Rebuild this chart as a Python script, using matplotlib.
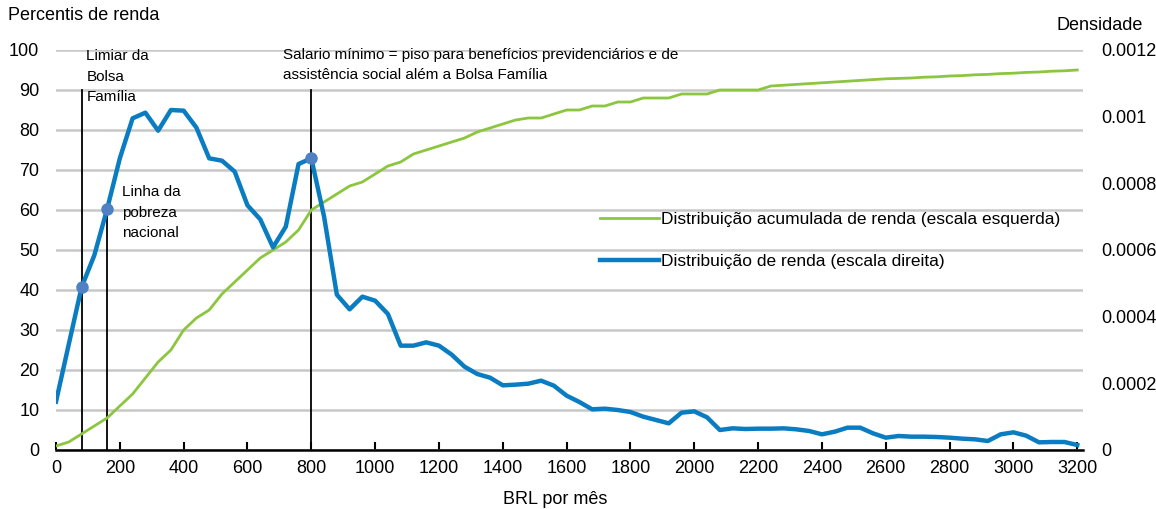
import numpy as np
import matplotlib
matplotlib.use("Agg")
import matplotlib.pyplot as plt

plt.rcParams['font.family'] = ['Liberation Sans', 'DejaVu Sans']

# renda mensal (BRL), passo de 40
renda = np.arange(0, 3201, 40)

# distribuição acumulada de renda (percentis, escala esquerda)
acumulada = [1.0, 2.0, 4.0, 6.0, 8.0, 11, 14, 18, 22, 25,
             30, 33, 35, 39, 42, 45, 48, 50, 52, 55,
             60, 62, 64, 66, 67, 69, 71, 72, 74, 75,
             76, 77, 78, 79.5, 80.5, 81.5, 82.5, 83, 83, 84,
             85, 85, 86, 86, 87, 87, 88, 88, 88, 89,
             89, 89, 90, 90, 90, 90, 91, 91.2, 91.4, 91.6,
             91.8, 92.0, 92.2, 92.4, 92.6, 92.8, 92.9, 93.0, 93.2, 93.3,
             93.5, 93.6, 93.8, 93.9, 94.1, 94.2, 94.4, 94.5, 94.7, 94.8,
             95.0]

# distribuição de renda (densidade, escala direita), em unidades de 1e-5
dens_e5 = [14.5, 31.7, 48.8, 58.4, 72.2, 87.5, 99.5, 101.2, 95.8, 102.0,
           101.8, 96.7, 87.5, 86.8, 83.5, 73.4, 69.2, 60.8, 67.0, 85.8,
           87.5, 70.0, 46.6, 42.2, 46.0, 44.8, 40.8, 31.3, 31.3, 32.3,
           31.3, 28.6, 25.0, 22.8, 21.7, 19.4, 19.6, 19.9, 20.8, 19.3,
           16.3, 14.4, 12.2, 12.4, 12.0, 11.4, 10.0, 9.0, 8.0, 11.2,
           11.6, 9.8, 6.0, 6.5, 6.3, 6.4, 6.4, 6.5, 6.2, 5.7,
           4.7, 5.5, 6.7, 6.7, 5.0, 3.7, 4.2, 4.0, 4.0, 3.9,
           3.7, 3.4, 3.2, 2.7, 4.7, 5.3, 4.3, 2.3, 2.4, 2.4,
           1.5]
densidade = np.array(dens_e5) * 1e-5

# linhas de referência
ref_x = [80, 160, 800]
ref_topo = [90, 60, 90]
pontos_x = [80, 160, 800]

dir_ticks = [0, 0.0002, 0.0004, 0.0006, 0.0008, 0.001, 0.0012]
dir_labels = ['0', '0.0002', '0.0004', '0.0006', '0.0008', '0.001', '0.0012']

verde = '#8cc63f'
azul = '#0a7cc1'
marcador = '#4f81c4'

fig = plt.figure(figsize=(11.56, 5.09), dpi=100)
ax = fig.add_axes([56 / 1156, 1 - 450 / 509, (1083 - 56) / 1156, 400 / 509])
ax2 = ax.twinx()

ax.set_xlim(0, 3218)
ax.set_ylim(0, 100)
ax2.set_ylim(0, 0.0012)

ax.set_yticks(np.arange(0, 101, 10))
ax.set_xticks(np.arange(0, 3201, 200))
ax.grid(axis='y', color='#c8c8c8', linewidth=1.8)
ax.set_axisbelow(True)

for s in ['top', 'right', 'left']:
    ax.spines[s].set_visible(False)
for s in ['top', 'right', 'left', 'bottom']:
    ax2.spines[s].set_visible(False)
ax.spines['bottom'].set_linewidth(1.8)

ax.tick_params(axis='y', length=0, pad=12, labelsize=13)
ax.tick_params(axis='x', direction='in', length=6, width=1.5, pad=7, labelsize=13)
ax2.set_yticks(dir_ticks)
ax2.set_yticklabels(dir_labels)
ax2.tick_params(axis='y', length=0, pad=13, labelsize=13)

for x, t in zip(ref_x, ref_topo):
    ax.plot([x, x], [0, t], color='black', linewidth=1.3, zorder=3)

l1, = ax.plot(renda, acumulada, color=verde, linewidth=2, zorder=4,
              label='Distribuição acumulada de renda (escala esquerda)')
l2, = ax2.plot(renda, densidade, color=azul, linewidth=3.2, zorder=4,
               label='Distribuição de renda (escala direita)')
idx = [list(renda).index(p) for p in pontos_x]
ax2.plot(renda[idx], densidade[idx], 'o', color=marcador, markersize=8, zorder=5)

ax.text(95, 100.2, 'Limiar da\nBolsa\nFamília', fontsize=11, va='top', linespacing=1.6)
ax.text(208, 66.2, 'Linha da\npobreza\nnacional', fontsize=11, va='top', linespacing=1.6)
ax.text(712, 100.6, 'Salario mínimo = piso para benefícios previdenciários e de\n'
        'assistência social além a Bolsa Família', fontsize=11, va='top', linespacing=1.6)

fig.legend(handles=[l1, l2], loc='upper left', bbox_to_anchor=(584 / 1156, 1 - 196 / 509),
           frameon=False, fontsize=12.5, handlelength=3.4, handletextpad=0.15, labelspacing=1.55)

fig.text(8 / 1156, 1 - 7 / 509, 'Percentis de renda', fontsize=13, va='top', ha='left')
fig.text(1143 / 1156, 1 - 17 / 509, 'Densidade', fontsize=13, va='top', ha='right')
fig.text(555 / 1156, 1 - 500 / 509, 'BRL por mês', fontsize=13, va='center', ha='center')

fig.savefig('out.png', dpi=100)
